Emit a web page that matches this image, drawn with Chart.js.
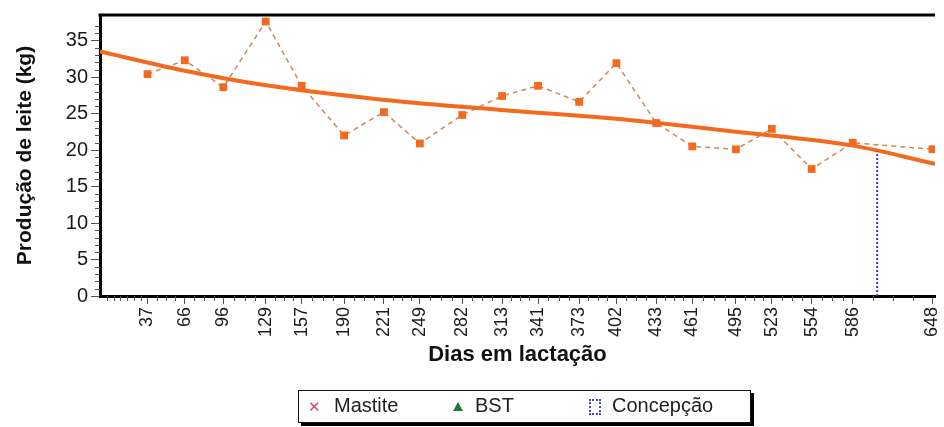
<!DOCTYPE html>
<html>
<head>
<meta charset="utf-8">
<script src="https://cdn.jsdelivr.net/npm/chart.js@4.4.0/dist/chart.umd.min.js"></script>
<style>
  html, body { margin: 0; padding: 0; background: #fff; }
  #wrap { position: relative; width: 944px; height: 427px; }
  #chart { position: absolute; left: 0; top: 0; }
  #legend {
    position: absolute; left: 298px; top: 390px; width: 451px; height: 31px;
    border: 1.5px solid #111; box-shadow: 3px 3px 0 #000; background: #fff;
    font-family: "Liberation Sans", Arial, sans-serif; font-size: 20px; color: #222;
  }
  #legend .item { position: absolute; top: 3px; white-space: nowrap; }
  #legend .mk { display: inline-block; vertical-align: middle; }
</style>
</head>
<body>
<div id="wrap">
  <canvas id="chart" width="944" height="427"></canvas>
  <div id="legend"></div>
</div>
<script>
// dias em lactação das pesagens
const days = [37, 66, 96, 129, 157, 190, 221, 249, 282, 313, 341, 373, 402, 433, 461, 495, 523, 554, 586, 648];
const milk = [30.4, 32.3, 28.6, 37.6, 28.8, 22.0, 25.2, 20.9, 24.8, 27.4, 28.8, 26.6, 31.9, 23.7, 20.5, 20.1, 22.9, 17.4, 21.0, 20.1];

// curva ajustada
const trendDays = [0, 65, 128, 220, 312, 402, 495, 586, 650];
const trendMilk = [33.5, 30.9, 28.9, 26.9, 25.5, 24.3, 22.5, 20.6, 18.1];

const conceptionDay = 605;
const conceptionTop = 19.8;

const yTicks = [0, 5, 10, 15, 20, 25, 30, 35];
const legendLabels = ['Mastite', 'BST', 'Concepção'];

const FONT = '"Liberation Sans", Arial, sans-serif';

// linha do topo + tracinhos menores nos eixos
const framePlugin = {
  id: 'frame',
  afterDraw(chart) {
    const { ctx, chartArea, scales } = chart;
    ctx.save();
    ctx.strokeStyle = '#000';
    ctx.lineWidth = 3;
    ctx.beginPath();
    ctx.moveTo(chartArea.left - 1.5, chartArea.top);
    ctx.lineTo(chartArea.right, chartArea.top);
    ctx.stroke();

    ctx.strokeStyle = '#555';
    ctx.lineWidth = 1;
    // y: a cada 1 kg
    for (let v = 1; v < 38; v++) {
      if (v % 5 === 0) continue;
      const py = Math.round(scales.y.getPixelForValue(v)) + 0.5;
      ctx.beginPath();
      ctx.moveTo(chartArea.left - 5, py);
      ctx.lineTo(chartArea.left, py);
      ctx.stroke();
    }
    // x: 3 entre cada dia marcado
    const marks = [0].concat(days);
    for (let i = 0; i < marks.length - 1; i++) {
      const n = i === 0 ? 6 : 3;
      const step = (marks[i + 1] - marks[i]) / (n + 1);
      for (let k = 1; k <= n; k++) {
        const px = Math.round(scales.x.getPixelForValue(marks[i] + step * k)) + 0.5;
        ctx.beginPath();
        ctx.moveTo(px, chartArea.bottom);
        ctx.lineTo(px, chartArea.bottom + 5);
        ctx.stroke();
      }
    }
    ctx.restore();
  }
};

const chart = new Chart(document.getElementById('chart').getContext('2d'), {
  type: 'line',
  data: {
    datasets: [
      {
        label: 'Curva',
        data: trendDays.map((d, i) => ({ x: d, y: trendMilk[i] })),
        borderColor: '#f36a1f',
        borderWidth: 4,
        pointRadius: 0,
        cubicInterpolationMode: 'monotone',
        order: 1
      },
      {
        label: 'Produção',
        data: days.map((d, i) => ({ x: d, y: milk[i] })),
        borderColor: '#c98a58',
        borderWidth: 1.5,
        borderDash: [5, 4],
        pointStyle: 'rect',
        pointRadius: 5.5,
        pointBackgroundColor: '#f26a1e',
        pointBorderWidth: 0,
        order: 2
      },
      {
        label: legendLabels[2],
        data: [{ x: conceptionDay, y: 0 }, { x: conceptionDay, y: conceptionTop }],
        borderColor: '#3b3bc8',
        borderWidth: 2,
        borderDash: [2, 2],
        pointRadius: 0,
        order: 0
      },
      { label: legendLabels[0], data: [], borderColor: '#d9435e' },
      { label: legendLabels[1], data: [], borderColor: '#1a7a3a' }
    ]
  },
  options: {
    responsive: false,
    animation: false,
    layout: { padding: { left: 0, right: 9, top: 13, bottom: 46 } },
    plugins: {
      legend: { display: false },
      tooltip: { enabled: false }
    },
    scales: {
      x: {
        type: 'linear',
        min: 0,
        max: 650,
        afterBuildTicks: (scale) => { scale.ticks = days.map(v => ({ value: v })); },
        afterFit: (scale) => {
          scale.height = 85;
          scale.paddingLeft = 0;
          scale.paddingRight = 0;
        },
        ticks: {
          autoSkip: false,
          minRotation: 90,
          maxRotation: 90,
          padding: 3,
          color: '#1a1a1a',
          font: { family: FONT, size: 18 }
        },
        grid: { drawOnChartArea: false, tickLength: 8, color: '#555' },
        border: { color: '#000', width: 3 },
        title: {
          display: true,
          text: 'Dias em lactação',
          color: '#111',
          font: { family: FONT, size: 22, weight: 'bold' },
          padding: { top: 0, bottom: 13 }
        }
      },
      y: {
        min: 0,
        max: 38.5,
        afterBuildTicks: (scale) => { scale.ticks = yTicks.map(v => ({ value: v })); },
        afterFit: (scale) => { scale.width = 100; },
        ticks: {
          padding: 3,
          color: '#1a1a1a',
          font: { family: FONT, size: 20 }
        },
        grid: { drawOnChartArea: false, tickLength: 9, color: '#555' },
        border: { color: '#000', width: 3 },
        title: {
          display: true,
          text: 'Produção de leite (kg)',
          color: '#111',
          font: { family: FONT, size: 21, weight: 'bold' },
          padding: { top: 13, bottom: 0 }
        }
      }
    }
  },
  plugins: [framePlugin]
});

// legenda em caixa, abaixo do grafico
const legendEl = document.getElementById('legend');
const legendPos = [9, 149, 288];
const markers = [
  '<span class="mk" style="color:#d9435e;font-size:15px;width:26px;">&#x2715;</span>',
  '<span class="mk" style="width:0;height:0;margin:0 12px 0 5px;border-left:5px solid transparent;border-right:5px solid transparent;border-bottom:9px solid #1a7a3a;"></span>',
  '<span class="mk" style="width:8px;height:12px;margin:0 11px 0 2px;border:2px dotted #4545cc;"></span>'
];
legendLabels.forEach((name, i) => {
  const item = document.createElement('span');
  item.className = 'item';
  item.style.left = legendPos[i] + 'px';
  item.innerHTML = markers[i] + name;
  legendEl.appendChild(item);
});
</script>
</body>
</html>
